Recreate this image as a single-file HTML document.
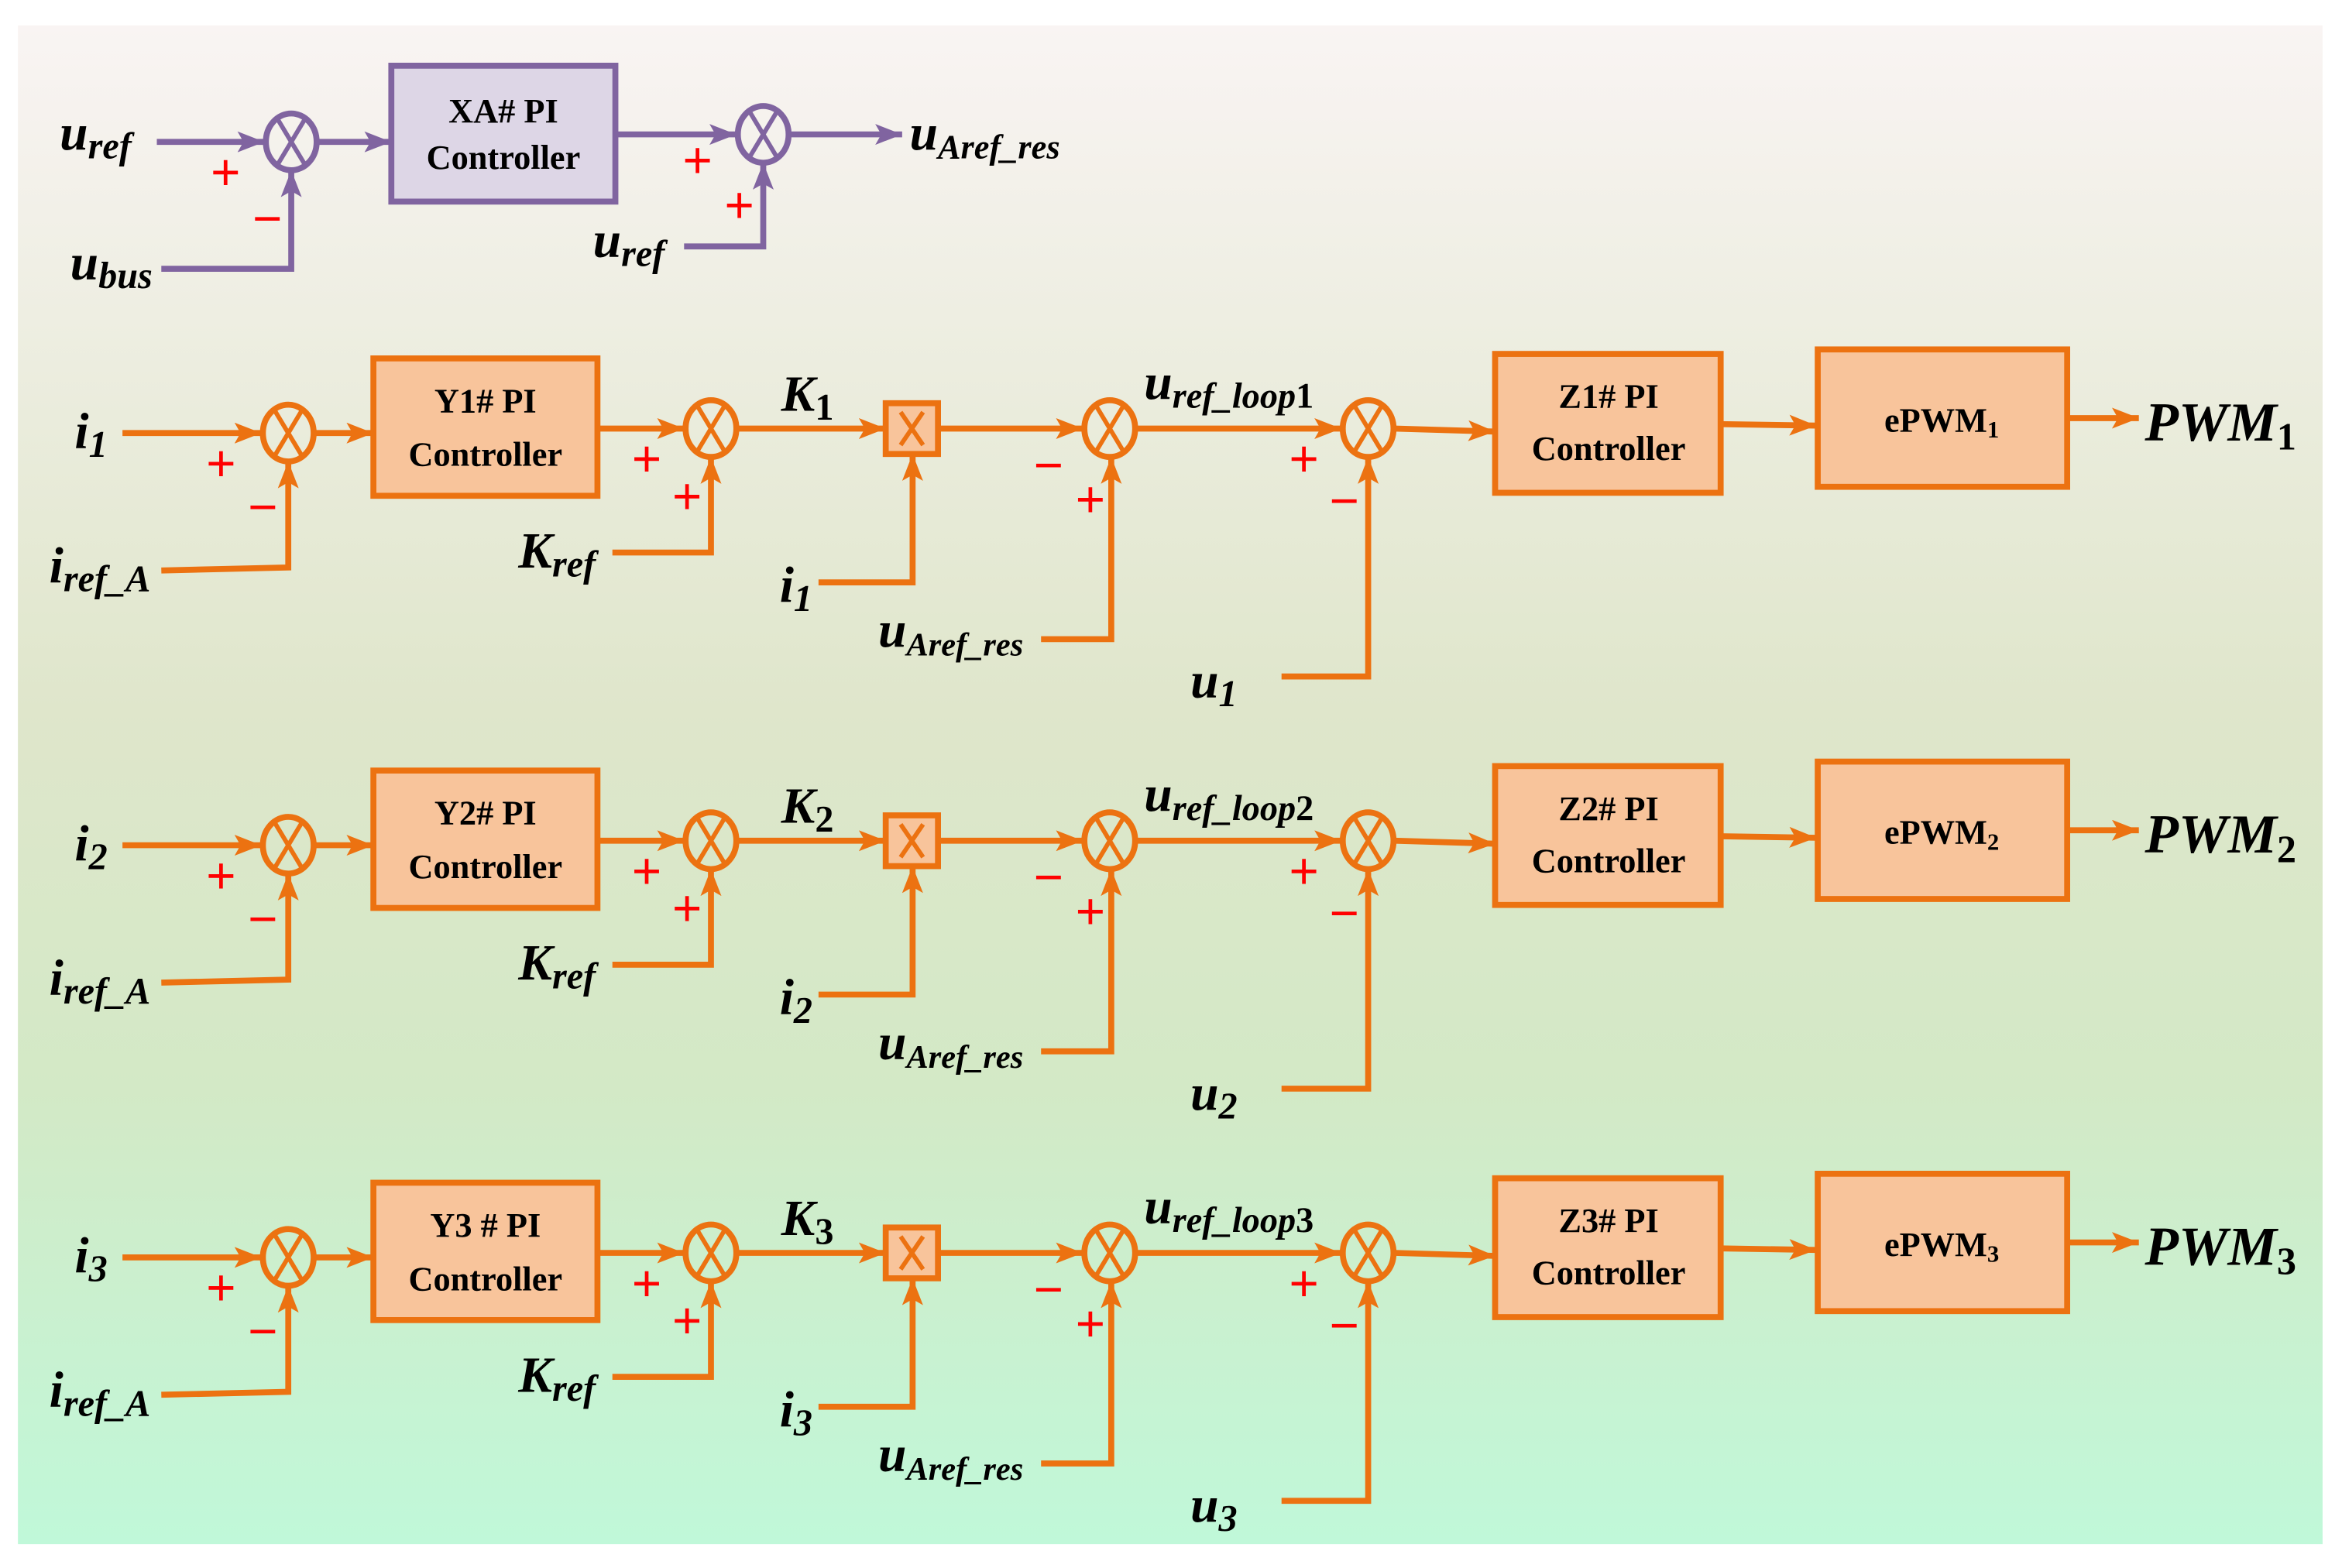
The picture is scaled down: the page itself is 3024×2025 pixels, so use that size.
<!DOCTYPE html>
<html><head><meta charset="utf-8"><style>
html,body{margin:0;padding:0;background:#fff;}
svg{display:block;}
.lb{font-family:"Liberation Serif",serif;font-style:italic;font-weight:bold;fill:#000;}
.bx{font-family:"Liberation Serif",serif;font-weight:bold;fill:#000;text-anchor:middle;}
.sg{font-family:"Liberation Sans",sans-serif;fill:#f00;font-size:34px;text-anchor:middle;}
</style></head><body>
<svg width="3024" height="2025" viewBox="0 0 1568 1050" preserveAspectRatio="none" xmlns="http://www.w3.org/2000/svg">
<defs>
<linearGradient id="bg" x1="0" y1="0" x2="0" y2="1">
<stop offset="0" stop-color="#f9f4f3"/>
<stop offset="0.45" stop-color="#dfe6cb"/>
<stop offset="0.7" stop-color="#d3e9c6"/>
<stop offset="1" stop-color="#c0f8d9"/>
</linearGradient>
<marker id="ao" markerUnits="userSpaceOnUse" markerWidth="18" markerHeight="14" refX="18" refY="7" orient="auto"><path d="M0,0 L18,7 L0,14 L4,7 z" fill="#ec7211"/></marker>
<marker id="ap" markerUnits="userSpaceOnUse" markerWidth="18" markerHeight="14" refX="18" refY="7" orient="auto"><path d="M0,0 L18,7 L0,14 L4,7 z" fill="#8064a0"/></marker>
<g id="sumo"><ellipse cx="0" cy="0" rx="17" ry="19" fill="none" stroke="#ec7211" stroke-width="4"/><path d="M-9,-15 L9,15 M9,-15 L-9,15" stroke="#ec7211" stroke-width="3"/></g>
<g id="sump"><ellipse cx="0" cy="0" rx="17" ry="19" fill="none" stroke="#8064a0" stroke-width="4"/><path d="M-9,-15 L9,15 M9,-15 L-9,15" stroke="#8064a0" stroke-width="3"/></g>
</defs>
<rect x="12" y="17" width="1543" height="1017" fill="url(#bg)"/>

<g stroke="#8064a0" stroke-width="4" fill="none">
<line x1="105" y1="95" x2="177" y2="95" marker-end="url(#ap)"/>
<line x1="213" y1="95" x2="262" y2="95" marker-end="url(#ap)"/>
<polyline points="108,180 195,180 195,114" marker-end="url(#ap)"/>
<rect x="262" y="44" width="150" height="91" fill="#ddd6e6"/>
<line x1="412" y1="90" x2="493" y2="90" marker-end="url(#ap)"/>
<line x1="529" y1="90" x2="604" y2="90" marker-end="url(#ap)"/>
<polyline points="458,165 511,165 511,109" marker-end="url(#ap)"/>
</g>
<use href="#sump" x="195" y="95"/>
<use href="#sump" x="511" y="90"/>
<text class="bx" x="337" y="82" font-size="23">XA# PI</text>
<text class="bx" x="337" y="113" font-size="23">Controller</text>
<text class="lb" x="40" y="100" font-size="34">u<tspan font-size="25" dy="6">ref</tspan></text>
<text class="lb" x="47" y="187" font-size="34">u<tspan font-size="25" dy="6">bus</tspan></text>
<text class="lb" x="397" y="172" font-size="34">u<tspan font-size="25" dy="6">ref</tspan></text>
<text class="lb" x="609" y="100" font-size="34">u<tspan font-size="23" dy="6">Aref_res</tspan></text>
<text class="sg" x="151" y="127">+</text>
<text class="sg" x="179" y="158">−</text>
<text class="sg" x="467" y="119">+</text>
<text class="sg" x="495" y="149">+</text>

<g id="row1">
<g stroke="#ec7211" stroke-width="4" fill="none">
<line x1="82" y1="290" x2="175" y2="290" marker-end="url(#ao)"/>
<polyline points="108,382 193,380 193,309" marker-end="url(#ao)"/>
<line x1="211" y1="290" x2="250" y2="290" marker-end="url(#ao)"/>
<rect x="250" y="240" width="150" height="92" fill="#f8c49b"/>
<line x1="400" y1="287" x2="458" y2="287" marker-end="url(#ao)"/>
<polyline points="410,370 476,370 476,306" marker-end="url(#ao)"/>
<line x1="494" y1="287" x2="593" y2="287" marker-end="url(#ao)"/>
<rect x="593" y="270" width="35" height="34" fill="#f8c49b"/>
<path d="M603,276 L618,298 M618,276 L603,298" stroke-width="3"/>
<polyline points="548,390 611,390 611,304" marker-end="url(#ao)"/>
<line x1="628" y1="287" x2="725" y2="287" marker-end="url(#ao)"/>
<polyline points="697,428 744,428 744,306" marker-end="url(#ao)"/>
<line x1="761" y1="287" x2="898" y2="287" marker-end="url(#ao)"/>
<polyline points="858,453 916,453 916,306" marker-end="url(#ao)"/>
<line x1="934" y1="287" x2="1001" y2="289" marker-end="url(#ao)"/>
<rect x="1001" y="237" width="151" height="93" fill="#f8c49b"/>
<line x1="1152" y1="284" x2="1216" y2="285" marker-end="url(#ao)"/>
<rect x="1217" y="234" width="167" height="92" fill="#f8c49b"/>
<line x1="1384" y1="280" x2="1432" y2="280" marker-end="url(#ao)"/>
</g>
<use href="#sumo" x="193" y="290"/>
<use href="#sumo" x="476" y="287"/>
<use href="#sumo" x="743" y="287"/>
<use href="#sumo" x="916" y="287"/>
<text class="sg" x="148" y="322">+</text>
<text class="sg" x="176" y="351">−</text>
<text class="sg" x="433" y="319">+</text>
<text class="sg" x="460" y="344">+</text>
<text class="sg" x="702" y="323">−</text>
<text class="sg" x="730" y="346">+</text>
<text class="sg" x="873" y="319">+</text>
<text class="sg" x="900" y="347">−</text>
</g>
<use href="#row1" y="276"/>
<use href="#row1" y="552"/>

<g class="lb">
<text x="50" y="300" font-size="34">i<tspan font-size="25" dy="6">1</tspan></text>
<text x="50" y="576" font-size="34">i<tspan font-size="25" dy="6">2</tspan></text>
<text x="50" y="852" font-size="34">i<tspan font-size="25" dy="6">3</tspan></text>
<text x="33" y="390" font-size="34">i<tspan font-size="25" dy="6">ref_A</tspan></text>
<text x="33" y="666" font-size="34">i<tspan font-size="25" dy="6">ref_A</tspan></text>
<text x="33" y="942" font-size="34">i<tspan font-size="25" dy="6">ref_A</tspan></text>
<text x="347" y="380" font-size="34">K<tspan font-size="25" dy="6">ref</tspan></text>
<text x="347" y="656" font-size="34">K<tspan font-size="25" dy="6">ref</tspan></text>
<text x="347" y="932" font-size="34">K<tspan font-size="25" dy="6">ref</tspan></text>
<text x="523" y="275" font-size="34">K<tspan font-size="25" dy="6" font-style="normal">1</tspan></text>
<text x="523" y="551" font-size="34">K<tspan font-size="25" dy="6" font-style="normal">2</tspan></text>
<text x="523" y="827" font-size="34">K<tspan font-size="25" dy="6" font-style="normal">3</tspan></text>
<text x="522" y="403" font-size="34">i<tspan font-size="25" dy="6">1</tspan></text>
<text x="522" y="679" font-size="34">i<tspan font-size="25" dy="6">2</tspan></text>
<text x="522" y="955" font-size="34">i<tspan font-size="25" dy="6">3</tspan></text>
<text x="588" y="433" font-size="34">u<tspan font-size="22" dy="6">Aref_res</tspan></text>
<text x="588" y="709" font-size="34">u<tspan font-size="22" dy="6">Aref_res</tspan></text>
<text x="588" y="985" font-size="34">u<tspan font-size="22" dy="6">Aref_res</tspan></text>
<text x="766" y="267" font-size="34">u<tspan font-size="24" dy="6">ref_loop<tspan font-style="normal">1</tspan></tspan></text>
<text x="766" y="543" font-size="34">u<tspan font-size="24" dy="6">ref_loop<tspan font-style="normal">2</tspan></tspan></text>
<text x="766" y="819" font-size="34">u<tspan font-size="24" dy="6">ref_loop<tspan font-style="normal">3</tspan></tspan></text>
<text x="797" y="467" font-size="34">u<tspan font-size="25" dy="6">1</tspan></text>
<text x="797" y="743" font-size="34">u<tspan font-size="25" dy="6">2</tspan></text>
<text x="797" y="1019" font-size="34">u<tspan font-size="25" dy="6">3</tspan></text>
<text x="1436" y="295" font-size="37">PWM<tspan font-size="26" dy="6" font-style="normal">1</tspan></text>
<text x="1436" y="571" font-size="37">PWM<tspan font-size="26" dy="6" font-style="normal">2</tspan></text>
<text x="1436" y="847" font-size="37">PWM<tspan font-size="26" dy="6" font-style="normal">3</tspan></text>
</g>
<g class="bx" font-size="23">
<text x="325" y="276">Y1# PI</text><text x="325" y="312">Controller</text>
<text x="325" y="552">Y2# PI</text><text x="325" y="588">Controller</text>
<text x="325" y="828">Y3 # PI</text><text x="325" y="864">Controller</text>
<text x="1077" y="273">Z1# PI</text><text x="1077" y="308">Controller</text>
<text x="1077" y="549">Z2# PI</text><text x="1077" y="584">Controller</text>
<text x="1077" y="825">Z3# PI</text><text x="1077" y="860">Controller</text>
<text x="1300" y="289">ePWM<tspan font-size="16" dy="4">1</tspan></text>
<text x="1300" y="565">ePWM<tspan font-size="16" dy="4">2</tspan></text>
<text x="1300" y="841">ePWM<tspan font-size="16" dy="4">3</tspan></text>
</g>
</svg>
</body></html>
